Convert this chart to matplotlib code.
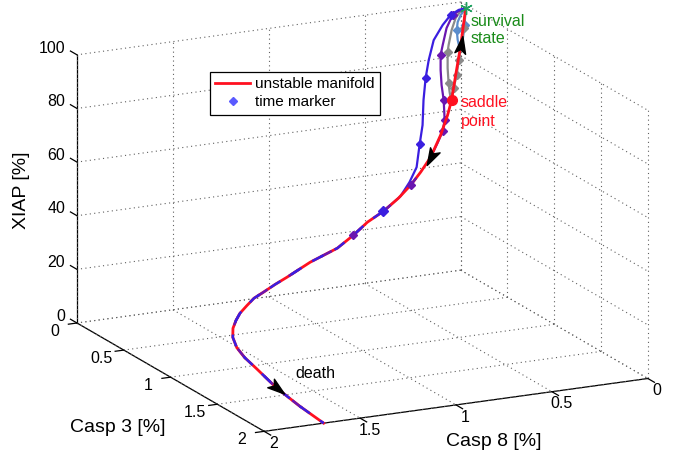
import matplotlib
matplotlib.use('Agg')
import matplotlib.pyplot as plt
from matplotlib.lines import Line2D
from matplotlib.markers import MarkerStyle
from matplotlib.path import Path
from matplotlib.transforms import Affine2D
from mpl_toolkits.mplot3d import proj3d

plt.rcParams['font.family'] = ['Liberation Sans', 'DejaVu Sans']

# ---------------- data (Casp8 %, Casp3 %, XIAP %) ----------------
# unstable manifold: survival state -> saddle point -> death
man_c8 = [0.008, 0.021, 0.029, 0.053, 0.072, 0.095, 0.134, 0.191, 0.248, 0.305,
          0.378, 0.466, 0.564, 0.652, 0.755, 0.921, 1.071, 1.15, 1.23, 1.297,
          1.358, 1.419, 1.464, 1.509, 1.544, 1.567, 1.579, 1.588, 1.638, 1.67, 1.69]
man_c3 = [0.07, 0.065, 0.06, 0.055, 0.05, 0.055, 0.06, 0.07, 0.08, 0.09,
          0.11, 0.13, 0.16, 0.19, 0.23, 0.28, 0.34, 0.375, 0.41, 0.45,
          0.5, 0.55, 0.6, 0.66, 0.73, 0.82, 0.93, 1.075, 1.39, 1.703, 2.0]
man_xiap = [99.2, 91.1, 85.4, 74.4, 65.1, 59.9, 52.9, 45.4, 40.6, 36.5,
            32.8, 29.2, 26.7, 23.3, 20.3, 17.7, 14.8, 13.6, 12.1, 11.4,
            10.3, 9.0, 7.8, 6.5, 4.9, 3.1, 1.7, 0.6, 0.3, 0.15, 0.0]
saddle_idx = 4
arrow_idx = [2, 7, 28]

# trajectory 1 (blue): own part, then joins the manifold at index 11
blue_c8 = [0.008, 0.045, 0.087, 0.128, 0.175, 0.201, 0.217, 0.228, 0.233, 0.248, 0.264, 0.301, 0.358, 0.42]
blue_c3 = [0.07, 0.07, 0.07, 0.07, 0.07, 0.07, 0.07, 0.07, 0.07, 0.07, 0.07, 0.07, 0.09, 0.11]
blue_xiap = [99.2, 98.9, 97.4, 94.1, 88.9, 81.7, 75.2, 67.1, 57.8, 50.9, 42.4, 37.2, 32.9, 30.6]
blue_join = 11
blue_marks = [2, 6, 9]
blue_marks_man = [11]

# trajectory 2 (purple): joins the manifold at index 7
purp_c8 = [0.008, 0.04, 0.071, 0.103, 0.123, 0.134, 0.134, 0.129, 0.118, 0.113, 0.123, 0.15]
purp_c3 = [0.07, 0.06, 0.06, 0.06, 0.06, 0.06, 0.06, 0.06, 0.06, 0.06, 0.06, 0.06]
purp_xiap = [99.2, 98.2, 97.1, 92.5, 86.4, 82.8, 77.2, 71.5, 65.8, 58.3, 54.3, 50.1]
purp_join = 7
purp_marks = [2, 5, 8, 9, 10]
purp_marks_man = [9, 13]

# trajectory 3 (gray): goes to the saddle and returns to survival
gray_c8 = [0.008, 0.027, 0.053, 0.074, 0.09, 0.095, 0.095, 0.09, 0.0845, 0.079,
           0.064, 0.048, 0.037, 0.022, 0.011, 0.001]
gray_c3 = [0.07, 0.055, 0.055, 0.055, 0.055, 0.055, 0.055, 0.055, 0.055, 0.055,
           0.055, 0.055, 0.055, 0.055, 0.055, 0.055]
gray_xiap = [99.2, 98.0, 95.7, 91.4, 85.9, 83.4, 77.4, 71.8, 68.3, 66.1,
             69.6, 74.3, 79.8, 85.3, 91.5, 98.1]
gray_marks = [5, 7, 10, 11, 12, 14]

# trajectory 4 (steel blue): small excursion near survival
steel_c8 = [0.008, 0.0295, 0.045, 0.05, 0.045, 0.035, 0.019, 0.009, 0.004]
steel_c3 = [0.07, 0.06, 0.06, 0.06, 0.06, 0.06, 0.06, 0.06, 0.06]
steel_xiap = [99.2, 96.6, 94.2, 91.2, 87.5, 84.4, 87.2, 92.7, 98.5]
steel_marks = [3, 7]

c8_ticks = [0, 0.5, 1, 1.5, 2]
c3_ticks = [0, 0.5, 1, 1.5, 2]
tick_labels = ['0', '0.5', '1', '1.5', '2']
xiap_ticks = [0, 20, 40, 60, 80, 100]
xiap_labels = ['0', '20', '40', '60', '80', '100']

# ---------------- styles ----------------
RED = '#ff1020'
BLUE = '#3a1ee0'
PURPLE = '#6a16b0'
GRAY = '#8a8a8a'
STEEL = '#5a8ccc'
GREEN = '#1a8c1a'
TICK_FS = 11.5
MS = 4.5

W, H = 683, 462
fig = plt.figure(figsize=(W / 100, H / 100), dpi=100)
ax = fig.add_axes([0, 0, 1, 1], projection='3d')
ax.set_proj_type('ortho')
ax.view_init(elev=16.4, azim=64)
ax.set_box_aspect((1, 1, 0.6548))
ax.computed_zorder = False

ax.set_xlim(0, 2)
ax.set_ylim(0, 2)
ax.set_zlim(0, 100)
ax.set_xticks([])
ax.set_yticks([])
ax.set_zticks([])
ax.grid(False)

for axis in (ax.xaxis, ax.yaxis, ax.zaxis):
    axis.set_pane_color((1, 1, 1, 0))
    axis.pane.set_edgecolor((1, 1, 1, 0))
    axis.line.set_color('black')
    axis.line.set_linewidth(0.9)

X0, X1 = 0, 2
Y0, Y1 = 0, 2
Z0, Z1 = 0, 100

# dotted grid on the back walls and floor (MATLAB style)
gkw = dict(color='#606060', lw=0.8, ls=(0, (1, 3)), zorder=1)
for t in c8_ticks:
    ax.plot([t, t], [Y0, Y1], [Z0, Z0], **gkw)
    ax.plot([t, t], [Y0, Y0], [Z0, Z1], **gkw)
for t in c3_ticks:
    ax.plot([X0, X1], [t, t], [Z0, Z0], **gkw)
    ax.plot([X0, X0], [t, t], [Z0, Z1], **gkw)
for t in xiap_ticks:
    ax.plot([X0, X1], [Y0, Y0], [t, t], **gkw)
    ax.plot([X0, X0], [Y0, Y1], [t, t], **gkw)

# tick marks
tkw = dict(color='black', lw=0.9, zorder=1.5)
for t in c3_ticks:
    ax.plot([X1, X1 + 0.045], [t, t], [Z0, Z0], **tkw)
for t in c8_ticks:
    ax.plot([t, t], [Y1, Y1 + 0.07], [Z0, Z0], **tkw)
for t in xiap_ticks:
    ax.plot([X1, X1], [Y0, Y0 - 0.07], [t, t], **tkw)

# trajectories (own parts)
ax.plot(steel_c8, steel_c3, steel_xiap, color=STEEL, lw=1.6, zorder=2,
        marker='D', ms=MS, markevery=steel_marks)
ax.plot(gray_c8, gray_c3, gray_xiap, color=GRAY, lw=1.6, zorder=2,
        marker='D', ms=MS, markevery=gray_marks)
ax.plot(purp_c8 + [man_c8[purp_join]], purp_c3 + [man_c3[purp_join]],
        purp_xiap + [man_xiap[purp_join]], color=PURPLE, lw=1.6, zorder=2,
        marker='D', ms=MS, markevery=purp_marks)
ax.plot(blue_c8 + [man_c8[blue_join]], blue_c3 + [man_c3[blue_join]],
        blue_xiap + [man_xiap[blue_join]], color=BLUE, lw=1.6, zorder=2,
        marker='D', ms=MS, markevery=blue_marks)

# unstable manifold
ax.plot(man_c8, man_c3, man_xiap, color=RED, lw=2.0, zorder=3)

# shared parts of trajectories along manifold
pj = purp_join
ax.plot(man_c8[pj:], man_c3[pj:], man_xiap[pj:], color=PURPLE, lw=1.8, zorder=4,
        ls=(5, (5, 10)))
ax.plot([man_c8[i] for i in purp_marks_man], [man_c3[i] for i in purp_marks_man],
        [man_xiap[i] for i in purp_marks_man], ls='none', marker='D', ms=MS,
        color=PURPLE, zorder=5)
bj = blue_join
ax.plot(man_c8[bj:], man_c3[bj:], man_xiap[bj:], color=BLUE, lw=1.8, zorder=4,
        ls=(0, (5, 5)))
ax.plot([man_c8[i] for i in blue_marks_man], [man_c3[i] for i in blue_marks_man],
        [man_xiap[i] for i in blue_marks_man], ls='none', marker='D', ms=MS + 0.5,
        color=BLUE, zorder=5)

# saddle point and survival state
ax.plot([man_c8[saddle_idx]], [man_c3[saddle_idx]], [man_xiap[saddle_idx]],
        ls='none', marker='o', ms=7, color=RED, zorder=6)
ax.plot([man_c8[0]], [man_c3[0]], [man_xiap[0]], ls='none', marker=(6, 2, 0),
        ms=9, mew=1.0, color='#20a060', zorder=6)

# direction arrows on manifold
head = Path([(1, 0), (-0.9, 0.6), (-0.45, 0), (-0.9, -0.6), (1, 0)],
            [Path.MOVETO, Path.LINETO, Path.LINETO, Path.LINETO, Path.CLOSEPOLY])
arrow_angles = [81, -118, -38]
for i, ang in zip(arrow_idx, arrow_angles):
    m = MarkerStyle(head, transform=Affine2D().rotate_deg(ang))
    ax.plot([man_c8[i]], [man_c3[i]], [man_xiap[i]], ls='none', marker=m, ms=13,
            color='black', zorder=7)

# annotations
fig.text(471 / W, 1 - 14 / H, 'survival\nstate', color=GREEN, fontsize=11.5,
         ha='left', va='top', linespacing=1.2)
fig.text(461 / W, 1 - 95 / H, 'saddle\npoint', color=RED, fontsize=11.5,
         ha='left', va='top', linespacing=1.3)
fig.text(295 / W, 1 - 366 / H, 'death', color='black', fontsize=11.5,
         ha='left', va='top')

fig.text(22 / W, 1 - 190 / H, 'XIAP [%]', rotation=90, fontsize=14,
         ha='center', va='center')
fig.text(118 / W, 1 - 428 / H, 'Casp 3 [%]', fontsize=14, ha='center', va='center')
fig.text(494 / W, 1 - 442 / H, 'Casp 8 [%]', fontsize=14, ha='center', va='center')

handles = [Line2D([], [], color=RED, lw=2),
           Line2D([], [], ls='none', marker='D', ms=4, color='#5a5aff')]
leg = fig.legend(handles, ['unstable manifold', 'time marker'], loc='upper left',
                 bbox_to_anchor=(210 / W, 1 - 72 / H), fontsize=11,
                 fancybox=False, edgecolor='black', framealpha=1,
                 handlelength=2.3, handletextpad=0.3, borderpad=0.35,
                 labelspacing=0.25, borderaxespad=0)
leg.get_frame().set_linewidth(0.9)

# ---------------- calibrate box placement ----------------
fig.canvas.draw()

def to_px(x, y, z):
    X, Y, _ = proj3d.proj_transform(x, y, z, ax.M)
    return ax.transData.transform((X, Y))

A = to_px(2, 0, 0)
B = to_px(0, 2, 0)
tA = (77, H - 323)
tB = (648, H - 377)
s = ((tB[0] - tA[0]) ** 2 + (tB[1] - tA[1]) ** 2) ** 0.5 / \
    ((B[0] - A[0]) ** 2 + (B[1] - A[1]) ** 2) ** 0.5
bb = ax.get_position()
l, b, w, h = bb.x0 * W, bb.y0 * H, bb.width * W, bb.height * H
nl = tA[0] - s * (A[0] - l)
nb = tA[1] - s * (A[1] - b)
ax.set_position([nl / W, nb / H, s * w / W, s * h / H])
fig.canvas.draw()

# tick labels placed like MATLAB's, at projected positions of the tick values
def label_at(x, y, z, text, **kw):
    px, py = to_px(x, y, z)
    fig.text(px / W, py / H, text, fontsize=TICK_FS, **kw)

for t, s_ in zip(c3_ticks, tick_labels):
    label_at(X1 + 0.115, t, -1.9, s_, ha='center', va='center')
for t, s_ in zip(c8_ticks, tick_labels):
    label_at(t, Y1 + 0.1, -2.5, s_, ha='center', va='center')
for t, s_ in zip(xiap_ticks, xiap_labels):
    label_at(X1, Y0 - 0.125, t, s_, ha='right', va='center')

fig.savefig('out.png', dpi=100)
